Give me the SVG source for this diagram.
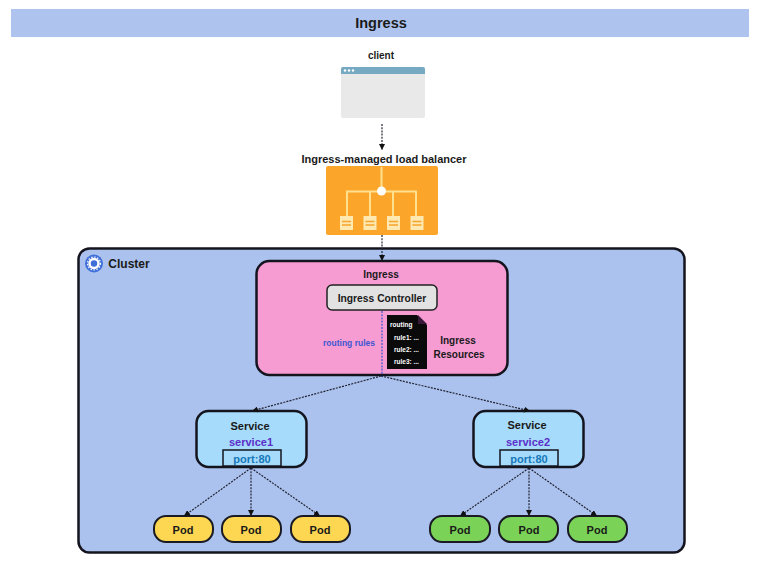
<svg xmlns="http://www.w3.org/2000/svg" width="757" height="567" viewBox="0 0 757 567">
<defs>
<marker id="arr" markerUnits="userSpaceOnUse" markerWidth="7" markerHeight="6" refX="6" refY="3" orient="auto"><path d="M0 0L6 3L0 6z" fill="#111"/></marker>
</defs>
<style>
text{font-family:"Liberation Sans",Arial,sans-serif;text-anchor:middle;font-weight:700;fill:#1a1a1a;font-size:11px}
.conn{fill:none;stroke:#223;stroke-width:1.2;stroke-dasharray:2 1.2;marker-end:url(#arr)}
.pod{stroke:#1a1a24;stroke-width:2}
.svc{fill:#a6dbfb;stroke:#14141e;stroke-width:2.5}
.lb{stroke:#ffe08f;stroke-width:2;fill:none}
.srv{fill:#ffe9b0}
.srvl{stroke:#f5a52c;stroke-width:1.6}
.doc{font-size:6.5px;fill:#fff;text-anchor:start}
.narrow{font-size:10px}
</style>
<rect width="757" height="567" fill="#fff"/>
<g id="title"><rect x="11" y="9" width="738" height="28" fill="#aec4ee"/><text x="381" y="28" style="font-size:14.500px">Ingress</text></g>
<g id="cluster"><rect x="78.500" y="248.500" width="606" height="304" rx="11" fill="#aac2ed" stroke="#14141e" stroke-width="2.500"/>
<circle cx="94" cy="263.500" r="9" fill="#3f6fd8"/><circle cx="94" cy="263.500" r="4.500" fill="#3f6fd8" stroke="#fff" stroke-width="2.500"/><circle cx="94" cy="263.500" r="6.500" fill="none" stroke="#fff" stroke-width="1.200" stroke-dasharray="1.500 1.500"/>
<text x="129" y="268" style="font-size:12px">Cluster</text></g>
<g id="client"><text x="381" y="59" class="narrow">client</text><rect x="341" y="67" width="84" height="51" rx="2" fill="#e9e9ea"/><path d="M341 74V69a2 2 0 0 1 2-2h80a2 2 0 0 1 2 2v5z" fill="#76a9c2"/><circle cx="345" cy="70.500" r="1.200" fill="#fff"/><circle cx="349" cy="70.500" r="1.200" fill="#fff"/><circle cx="353" cy="70.500" r="1.200" fill="#fff"/></g>
<g id="load-balancer"><text x="384" y="163">Ingress-managed load balancer</text><rect x="326" y="166" width="112" height="69" rx="2" fill="#fba62b"/>
<path class="lb" d="M381.500 167V190M347 217V191.500H416V217M370 191.500V217M393 191.500V217"/><circle cx="381.500" cy="191" r="4.500" fill="#fff"/>
<g class="srv"><rect x="340" y="216" width="13" height="14"/><rect x="363.500" y="216" width="13" height="14"/><rect x="387" y="216" width="13" height="14"/><rect x="410.500" y="216" width="13" height="14"/></g>
<path class="srvl" d="M342 221.500H351M342 225H351M365.500 221.500H374.500M365.500 225H374.500M389 221.500H398M389 225H398M412.500 221.500H421.500M412.500 225H421.500"/></g>
<g id="ingress"><rect x="256.500" y="261" width="251" height="114" rx="13" fill="#f79bd3" stroke="#14141e" stroke-width="2.500"/><text x="381" y="278" class="narrow">Ingress</text></g>
<g id="ingress-controller"><rect x="327" y="285" width="110" height="25" rx="5" fill="#e2e2e2" stroke="#222" stroke-width="1.500"/><text x="382" y="302" style="font-size:10.300px">Ingress Controller</text></g>
<g id="ingress-resources"><path d="M387 315H417L427 325V369H387z" fill="#0a0a0a"/><path d="M418 315L427 324H418z" fill="#3a1a3a"/>
<text class="doc" x="390" y="327">routing</text><text class="doc" x="394" y="340">rule1: ...</text><text class="doc" x="394" y="352">rule2: ...</text><text class="doc" x="394" y="364">rule3: ...</text>
<text x="458" y="344" class="narrow">Ingress</text><text x="459" y="358" class="narrow">Resources</text></g>
<text x="349" y="346" style="font-size:8.500px;fill:#3d57d0">routing rules</text>
<g id="service1"><rect x="196.500" y="411" width="110" height="56" rx="12" class="svc"/><text x="250" y="430">Service</text><text x="251" y="446" style="fill:#5b2fc9">service1</text><rect x="223" y="450" width="58" height="16" fill="#a6dbfb" stroke="#14141e" stroke-width="1.500"/><text x="252" y="463" style="fill:#1678b8">port:80</text></g>
<g id="service2"><rect x="473.500" y="411" width="110" height="56" rx="12" class="svc"/><text x="527" y="429">Service</text><text x="528" y="446" style="fill:#5b2fc9">service2</text><rect x="500" y="450" width="58" height="16" fill="#a6dbfb" stroke="#14141e" stroke-width="1.500"/><text x="529" y="463" style="fill:#1678b8">port:80</text></g>
<g id="pod1"><rect x="154" y="516" width="59" height="26" rx="12" fill="#fdd751" class="pod"/><text x="183" y="534">Pod</text></g>
<g id="pod2"><rect x="222" y="516" width="59" height="26" rx="12" fill="#fdd751" class="pod"/><text x="251" y="534">Pod</text></g>
<g id="pod3"><rect x="291" y="516" width="59" height="26" rx="12" fill="#fdd751" class="pod"/><text x="320" y="534">Pod</text></g>
<g id="pod4"><rect x="430" y="516" width="60" height="26" rx="12" fill="#7ad357" class="pod"/><text x="460" y="534">Pod</text></g>
<g id="pod5"><rect x="499" y="516" width="59" height="26" rx="12" fill="#7ad357" class="pod"/><text x="529" y="534">Pod</text></g>
<g id="pod6"><rect x="568" y="516" width="59" height="26" rx="12" fill="#7ad357" class="pod"/><text x="597" y="534">Pod</text></g>
<g id="connectors">
<path class="conn" d="M382 124V150"/>
<path class="conn" d="M382 235V261"/>
<path d="M382 311V375" fill="none" stroke="#3d57d0" stroke-width="1.200" stroke-dasharray="2 1.200"/>
<path class="conn" d="M381 376L252 411"/>
<path class="conn" d="M381 376L530 411"/>
<path class="conn" d="M251 468L184 516"/>
<path class="conn" d="M251 468V516"/>
<path class="conn" d="M251 468L320 516"/>
<path class="conn" d="M529 468L460 516"/>
<path class="conn" d="M529 468V516"/>
<path class="conn" d="M529 468L597 516"/>
</g>
</svg>
